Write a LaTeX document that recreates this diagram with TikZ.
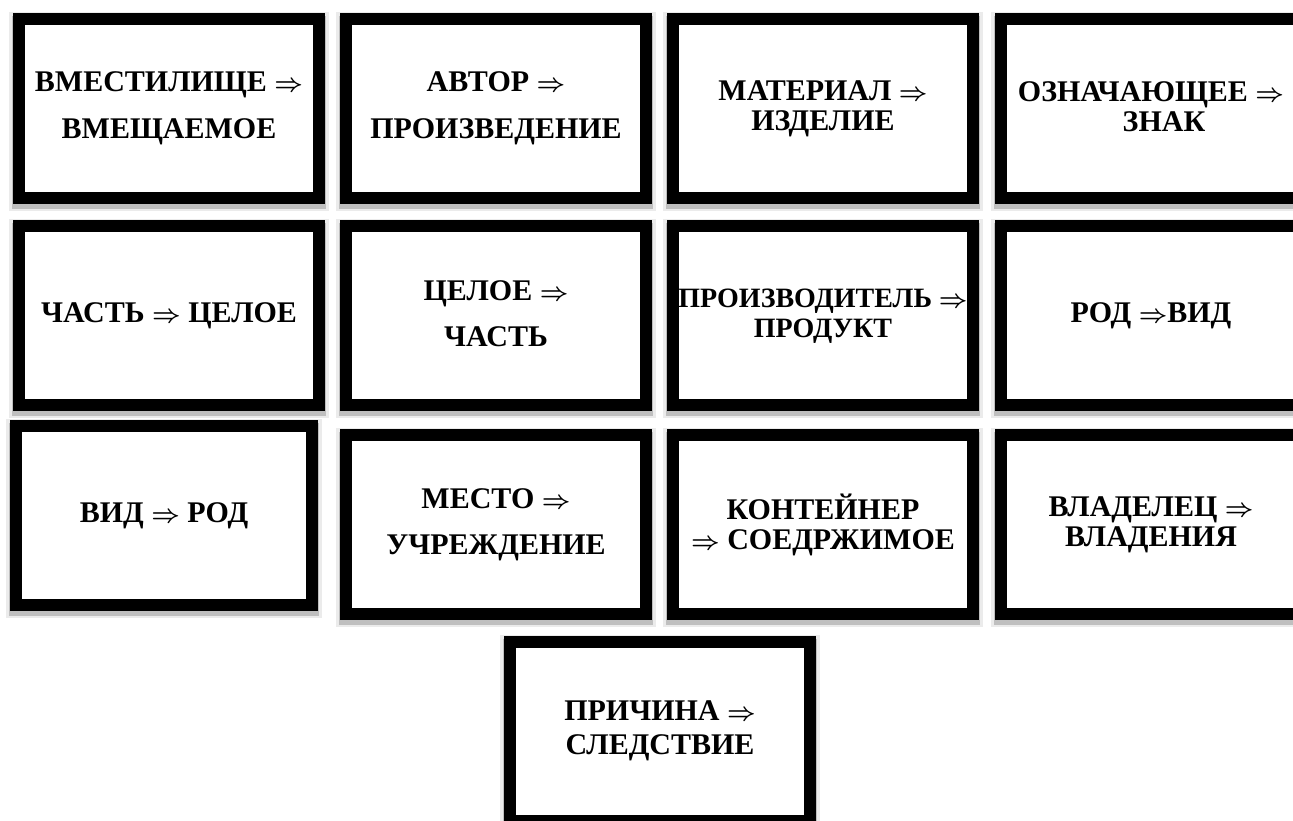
\documentclass[tikz,border=0pt]{standalone}
\usepackage{fontspec}
\setmainfont{Liberation Serif}
\newcommand\ls{\rule[-3pt]{0pt}{22pt}}
\begin{document}
\begin{tikzpicture}[x=1pt,y=-1pt,
  box/.style={draw=black, line width=12pt, fill=white,
    minimum width=300pt, minimum height=179pt, inner sep=0pt, align=center,
    font=\fontsize{30}{30}\selectfont\bfseries\boldmath,
    preaction={draw=black!8, line width=20pt, transform canvas={yshift=-3pt}},
    preaction={draw=black!25, line width=14pt, transform canvas={yshift=-4pt}}},
  narrowbox/.style={box, minimum width=296pt},
  smalltext/.style={font=\fontsize{28}{30}\selectfont\bfseries\boldmath}]
\useasboundingbox (0,0) rectangle (1293,821);
\clip (0,0) rectangle (1293,821);
\fill[white] (0,0) rectangle (1293,821);
% row 1
\node[box] (b11) at (169,108.5) {\ls ВМЕСТИЛИЩЕ $\Rightarrow$\\[16.5pt]\ls ВМЕЩАЕМОЕ};
\node[box] (b12) at (496,108.5) {\ls АВТОР $\Rightarrow$\\[16.5pt]\ls ПРОИЗВЕДЕНИЕ};
\node[box] (b13) at (823,108.5) {\ls МАТЕРИАЛ $\Rightarrow$\\\ls ИЗДЕЛИЕ};
\node[box] (b14) at (1151,108.5) {\ls ОЗНАЧАЮЩЕЕ $\Rightarrow$\\\hspace*{26pt}\ls ЗНАК};
% row 2
\node[box] (b21) at (169,315.5) {\ls ЧАСТЬ $\Rightarrow$ ЦЕЛОЕ};
\node[box] (b22) at (496,315.5) {\ls ЦЕЛОЕ $\Rightarrow$\\[16pt]\ls ЧАСТЬ};
\node[box, smalltext] (b23) at (823,315.5) {\ls ПРОИЗВОДИТЕЛЬ $\Rightarrow$\\\ls ПРОДУКТ};
\node[box] (b24) at (1151,315.5) {\ls РОД $\Rightarrow$ВИД};
% row 3
\node[narrowbox] (b31) at (164,515.5) {\ls ВИД $\Rightarrow$ РОД};
\node[box] (b32) at (496,524.5) {\ls МЕСТО $\Rightarrow$\\[16pt]\ls УЧРЕЖДЕНИЕ};
\node[box] (b33) at (823,524.5) {\ls КОНТЕЙНЕР\\\ls $\Rightarrow$ СОЕДРЖИМОЕ};
\node[box] (b34) at (1151,524.5) {\ls ВЛАДЕЛЕЦ $\Rightarrow$\\\ls ВЛАДЕНИЯ};
% row 4
\node[box] (b41) at (660,731) {\ls ПРИЧИНА $\Rightarrow$\\[3.5pt]\ls СЛЕДСТВИЕ};
\end{tikzpicture}
\end{document}
